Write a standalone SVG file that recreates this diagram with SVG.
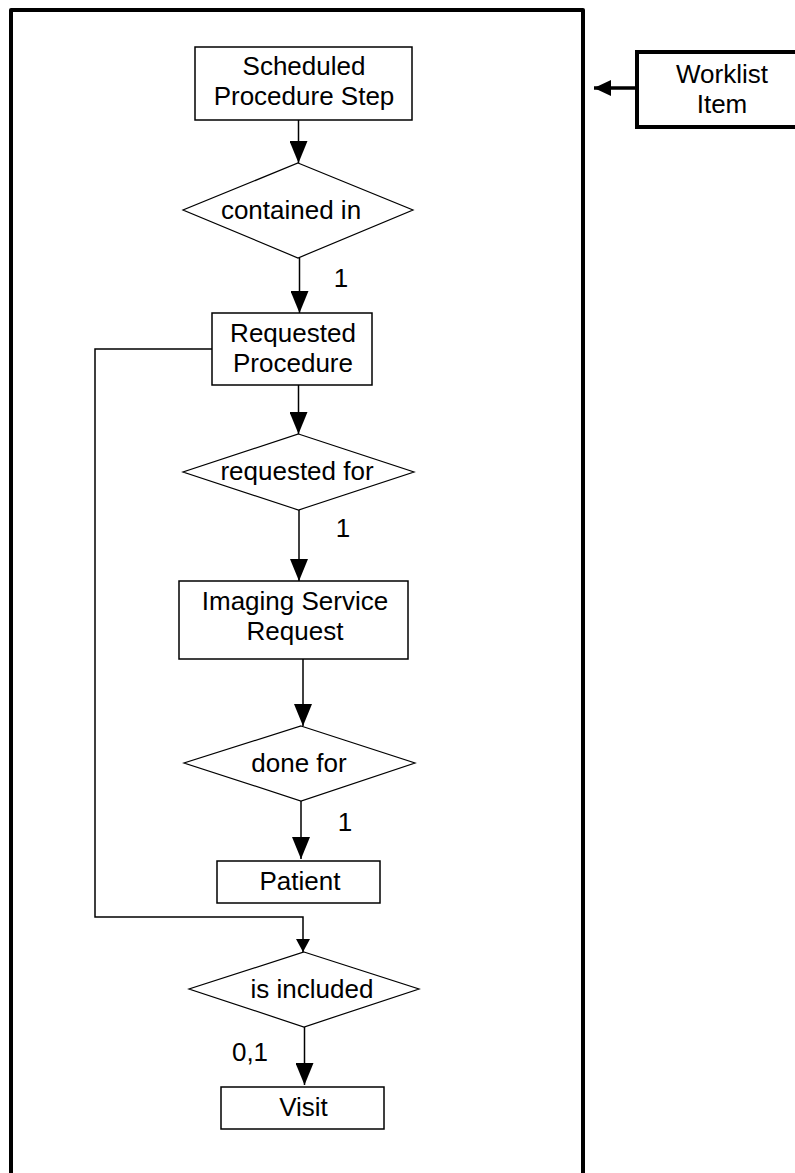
<svg xmlns="http://www.w3.org/2000/svg" width="795" height="1173" viewBox="0 0 795 1173">
<style>
.box{fill:#fff;stroke:#000;stroke-width:1.5}
.dia{fill:#fff;stroke:#000;stroke-width:1.2}
.t{font-family:"Liberation Sans",Arial,sans-serif;font-size:26px;fill:#000;text-anchor:middle}
.c{fill:none;stroke:#000;stroke-width:1.5}
.thick{fill:none;stroke:#000;stroke-width:4}
</style>
<defs>
<marker id="ah" markerUnits="userSpaceOnUse" viewBox="0 0 22 18" refX="22" refY="9" markerWidth="22" markerHeight="18" orient="auto">
<path d="M0,0 L22,9 L0,18 z" fill="#000"/>
</marker>
<marker id="ahs" markerUnits="userSpaceOnUse" viewBox="0 0 13 14" refX="13" refY="7" markerWidth="13" markerHeight="14" orient="auto">
<path d="M0,0 L13,7 L0,14 z" fill="#000"/>
</marker>
<marker id="ahw" markerUnits="userSpaceOnUse" viewBox="0 0 17 16" refX="17" refY="8" markerWidth="17" markerHeight="16" orient="auto">
<path d="M0,0 L17,8 L0,16 z" fill="#000"/>
</marker>
</defs>
<rect width="795" height="1173" fill="#fff"/>
<g id="frame">
<path class="thick" d="M11,1185 V10 H583 V1185" stroke-linejoin="round"/>
</g>
<g id="connectors">
<line class="c" x1="298.5" y1="120" x2="298.5" y2="163" marker-end="url(#ah)"/>
<line class="c" x1="299.5" y1="258" x2="299.5" y2="313" marker-end="url(#ah)"/>
<line class="c" x1="298.5" y1="385" x2="298.5" y2="434" marker-end="url(#ah)"/>
<line class="c" x1="299" y1="510" x2="299" y2="581" marker-end="url(#ah)"/>
<line class="c" x1="303" y1="659" x2="303" y2="726" marker-end="url(#ah)"/>
<line class="c" x1="301" y1="801" x2="301" y2="859" marker-end="url(#ah)"/>
<polyline class="c" points="212,349 95,349 95,917 303,917 303,952" marker-end="url(#ahs)"/>
<line class="c" x1="304.5" y1="1027" x2="304.5" y2="1085" marker-end="url(#ah)"/>
<line x1="637" y1="88" x2="594" y2="88" stroke="#000" stroke-width="3.5" marker-end="url(#ahw)"/>
<text class="t" x="341" y="287">1</text>
<text class="t" x="343" y="537">1</text>
<text class="t" x="345" y="831">1</text>
<text class="t" x="250" y="1061">0,1</text>
</g>
<g id="worklist-item">
<path class="thick" d="M800,52 H637 V127 H800"/>
<text class="t" x="722" y="83">Worklist</text>
<text class="t" x="722" y="113">Item</text>
</g>
<g id="scheduled-procedure-step">
<rect class="box" x="195" y="47" width="217" height="73"/>
<text class="t" x="304" y="75">Scheduled</text>
<text class="t" x="304" y="105">Procedure Step</text>
</g>
<g id="contained-in">
<polygon class="dia" points="298,163 413,210 298,258 183,210"/>
<text class="t" x="291" y="219">contained in</text>
</g>
<g id="requested-procedure">
<rect class="box" x="212" y="313" width="160" height="72"/>
<text class="t" x="293" y="342">Requested</text>
<text class="t" x="293" y="372">Procedure</text>
</g>
<g id="requested-for">
<polygon class="dia" points="298.5,434 414,472 298.5,510 183,472"/>
<text class="t" x="297" y="480">requested for</text>
</g>
<g id="imaging-service-request">
<rect class="box" x="179" y="581" width="229" height="78"/>
<text class="t" x="295" y="610">Imaging Service</text>
<text class="t" x="295" y="640">Request</text>
</g>
<g id="done-for">
<polygon class="dia" points="301,726 415,763 301,801 184,763"/>
<text class="t" x="299" y="772">done for</text>
</g>
<g id="patient">
<rect class="box" x="217" y="861" width="163" height="42"/>
<text class="t" x="300" y="890">Patient</text>
</g>
<g id="is-included">
<polygon class="dia" points="304,952 419,989 304,1027 189,989"/>
<text class="t" x="312" y="998">is included</text>
</g>
<g id="visit">
<rect class="box" x="221" y="1087" width="163" height="42"/>
<text class="t" x="303.5" y="1116">Visit</text>
</g>
</svg>
